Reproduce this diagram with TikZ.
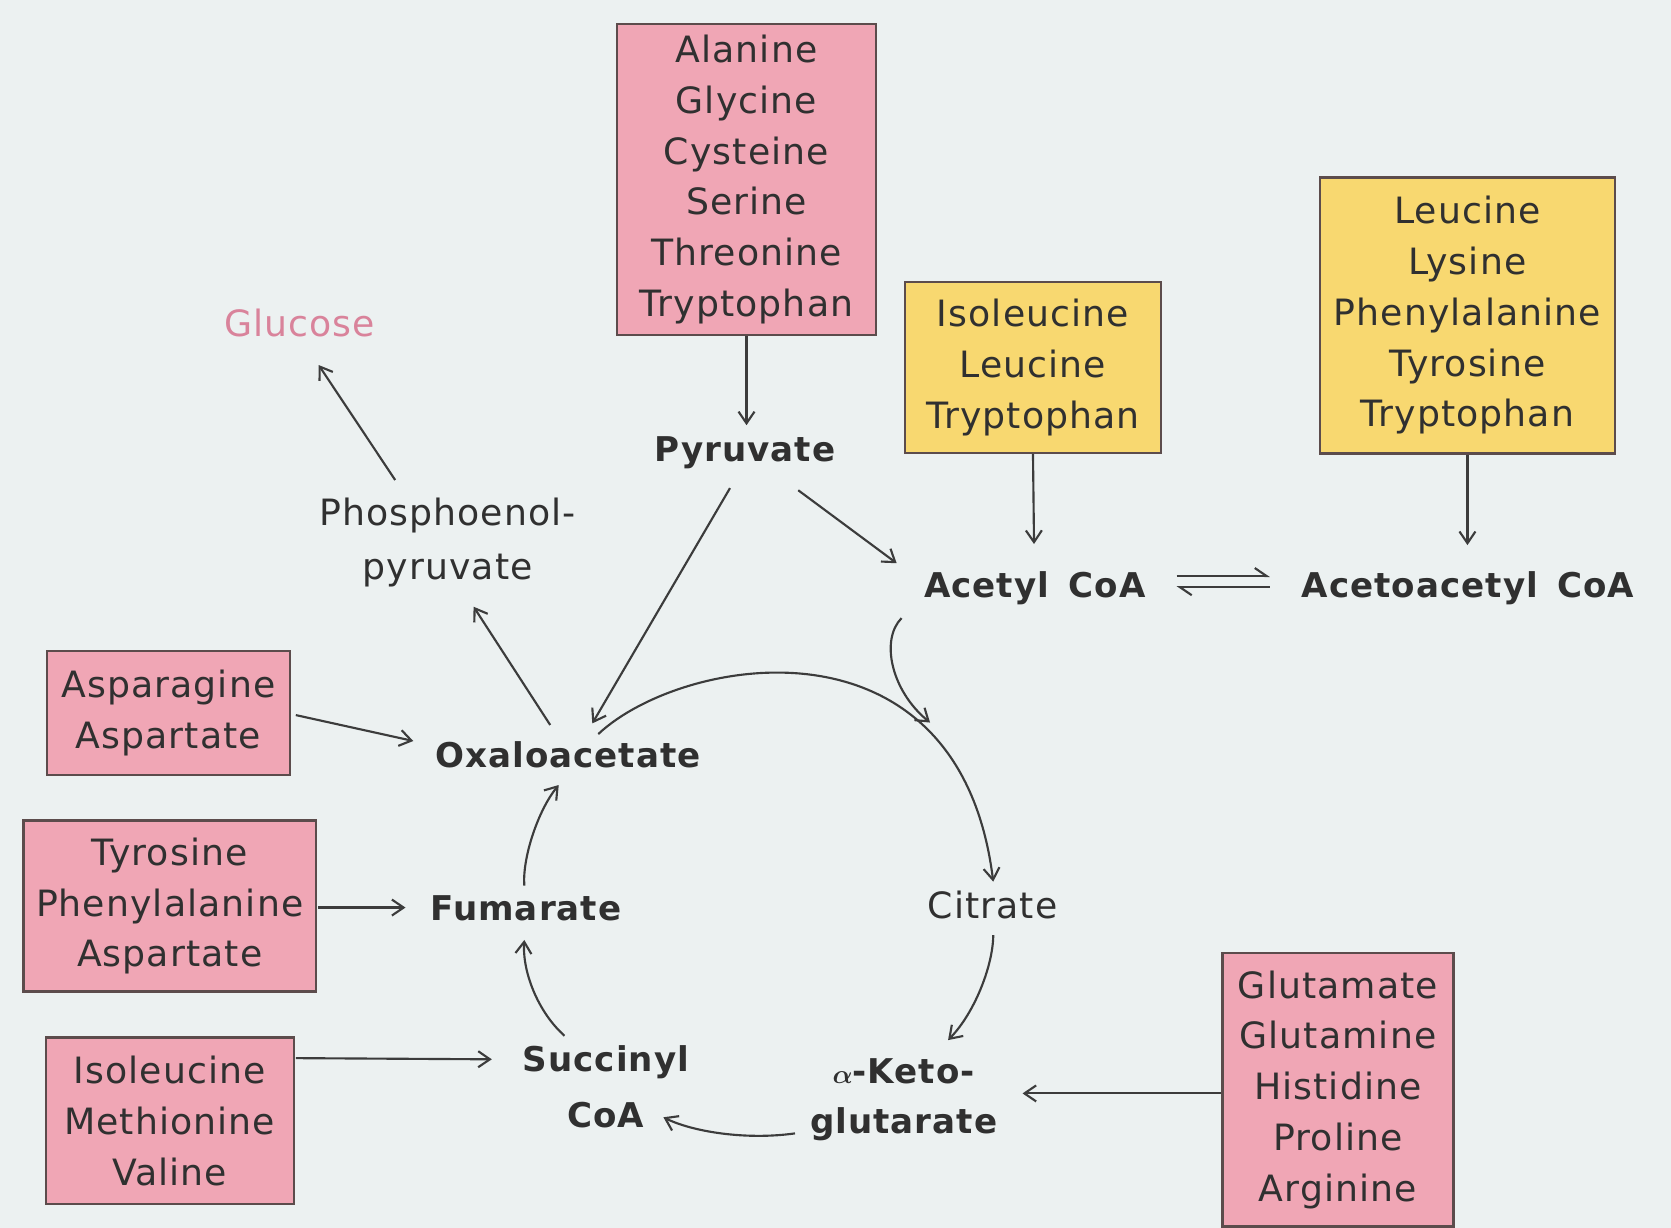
\documentclass[tikz,border=0pt]{standalone}
\usepackage{fontspec}
\setmainfont{DejaVu Sans}[LetterSpace=3]
\usetikzlibrary{arrows.meta,calc}
\definecolor{bgc}{RGB}{236,241,241}
\definecolor{pinkc}{RGB}{240,166,181}
\definecolor{yellowc}{RGB}{248,216,112}
\definecolor{borderc}{RGB}{92,76,76}
\definecolor{textc}{RGB}{48,48,48}
\definecolor{linec}{RGB}{60,60,60}
\definecolor{glucosec}{RGB}{217,131,155}
\begin{document}
\begin{tikzpicture}[x=1pt,y=-1pt,
  >={Straight Barb[length=11pt,width=15pt]},
  conn/.style={draw=linec, line width=2pt, ->},
  harp/.style={draw=linec, line width=2pt, -{Straight Barb[length=11pt,width=15pt,left]}},
  aabox/.style={draw=borderc, line width=2.2pt, align=center, inner sep=0pt, text=textc, font=\fontsize{34}{47.6}\selectfont},
  pinkbox/.style={aabox, fill=pinkc},
  yellowbox/.style={aabox, fill=yellowc},
  metab/.style={inner sep=0pt, text=textc, align=center, font=\bfseries\fontsize{32}{50}\selectfont},
  plain/.style={inner sep=0pt, text=textc, align=center, font=\fontsize{34}{50}\selectfont}]
\useasboundingbox (0,0) rectangle (1568,1152);
\fill[bgc] (0,0) rectangle (1568,1152);

% amino acid boxes
\node[pinkbox, minimum width=243, minimum height=292] (ala) at (700.5,168.5)
  {Alanine\\Glycine\\Cysteine\\Serine\\Threonine\\Tryptophan};
\node[yellowbox, minimum width=240, minimum height=160] (yb1) at (969.3,344.8)
  {Isoleucine\\Leucine\\Tryptophan};
\node[yellowbox, minimum width=277, minimum height=259] (yb2) at (1377,296)
  {Leucine\\Lysine\\Phenylalanine\\Tyrosine\\Tryptophan};
\node[pinkbox, minimum width=228, minimum height=116] (asp) at (158,669)
  {Asparagine\\Aspartate};
\node[pinkbox, minimum width=274.5, minimum height=160.5] (tyr) at (159.25,850.25)
  {Tyrosine\\Phenylalanine\\Aspartate};
\node[pinkbox, minimum width=232.6, minimum height=156.4] (ile) at (159.3,1051.8)
  {Isoleucine\\Methionine\\Valine};
\node[pinkbox, minimum width=217, minimum height=257] (glu) at (1255.5,1022.5)
  {Glutamate\\Glutamine\\Histidine\\Proline\\Arginine};

% metabolites
\node[plain, text=glucosec] (glc) at (281,303) {Glucose};
\node[metab] (pyr) at (699,425) {Pyruvate};
\node[plain] (pep) at (420,509) {Phosphoenol-\\pyruvate};
\node[metab] (acoa) at (971,551.5) {Acetyl\hspace{6pt} CoA};
\node[metab] (aacoa) at (1377.5,551.5) {Acetoacetyl\hspace{6pt} CoA};
\node[metab] (oaa) at (533,708) {Oxaloacetate};
\node[metab] (fum) at (493.5,852) {Fumarate};
\node[plain] (cit) at (931.5,849) {Citrate};
\node[metab, font=\bfseries\fontsize{32}{53}\selectfont] (suc) at (568.5,1020) {Succinyl\\CoA};
\node[metab, font=\bfseries\fontsize{32}{47}\selectfont] (akg) at (848,1032) {{\boldmath$\alpha$}-Keto-\\glutarate};

\coordinate (cyc) at (872.7,678);

% straight connectors
\draw[conn] (ala.south) -- ($(pyr)+(1.5,-26)$);
\draw[conn] (yb1.south) -- ($(acoa)+(-0.7,-41)$);
\draw[conn] (yb2.south) -- ($(aacoa)+(-0.5,-40)$);
\draw[conn] ($(pyr)+(50,35)$) -- ($(acoa)+(-129.6,-23)$);
\draw[conn] ($(pyr)+(-14,33)$) -- ($(oaa)+(22.8,-29.2)$);
\draw[conn] ($(pep)+(-49.2,-58.6)$) -- ($(glc)+(18,39.5)$);
\draw[conn] ($(oaa)+(-16.7,-27.7)$) -- ($(pep)+(24.4,60.3)$);
\draw[conn] ($(asp.east)+(4.5,2)$) -- ($(oaa)+(-145.2,-12.7)$);
\draw[conn] ($(tyr.east)+(1,1.35)$) -- ($(fum)+(-113,-0.4)$);
\draw[conn] ($(ile.north east)+(1,20.4)$) -- ($(suc)+(-107,-26)$);
\draw[conn] ($(glu.west)+(0,3.5)$) -- ($(akg)+(111.5,-6)$);

% equilibrium harpoons
\draw[harp] ($(acoa)+(133,-11)$) -- ($(aacoa)+(-185.8,-11)$);
\draw[harp] ($(aacoa)+(-185.8,-0.5)$) -- ($(acoa)+(133,-0.5)$);

% cycle
\draw[conn] ($(acoa)+(-125,28.5)$) .. controls (826,600) and (836,648) .. (cyc);
\draw[conn] ($(oaa)+(28.4,-19.2)$) .. controls (640,615) and (900,570) .. ($(cit)+(0.5,-21.7)$);
\draw[conn] ($(cit)+(0.5,28.4)$) .. controls (932,905) and (915,950) .. ($(akg)+(41.6,-56)$);
\draw[conn] ($(akg)+(-102,31.5)$) .. controls (700,1070) and (650,1062) .. ($(suc)+(54,28.4)$);
\draw[conn] ($(suc)+(-38.8,-48.1)$) .. controls (505,950) and (490,912) .. ($(fum)+(-1.5,30)$);
\draw[conn] ($(fum)+(-1.5,-21)$) .. controls (490,805) and (505,760) .. ($(oaa)+(-8.7,28.6)$);
\end{tikzpicture}
\end{document}
